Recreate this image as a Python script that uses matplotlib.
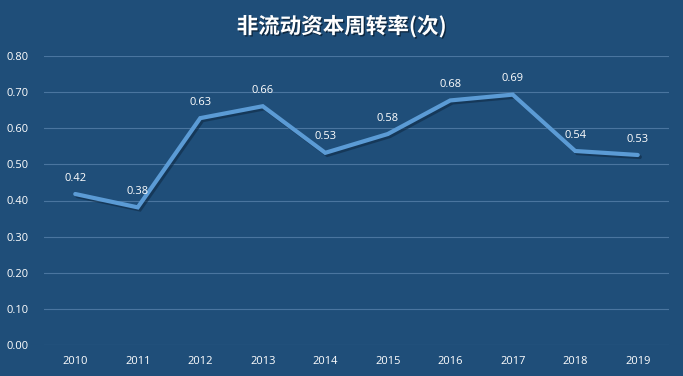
import matplotlib.pyplot as plt
import matplotlib.patheffects as pe

years = ['2010', '2011', '2012', '2013', '2014', '2015', '2016', '2017', '2018', '2019']
turnover = [0.418, 0.381, 0.628, 0.661, 0.532, 0.584, 0.677, 0.693, 0.537, 0.526]
yticks = [0.0, 0.1, 0.2, 0.3, 0.4, 0.5, 0.6, 0.7, 0.8]

bg = '#1f4e79'
plt.rcParams['font.family'] = ['Noto Sans CJK SC', 'DejaVu Sans']

fig = plt.figure(figsize=(6.83, 3.76), dpi=100, facecolor=bg)
ax = fig.add_axes([44 / 683, 1 - 345 / 376, 625 / 683, 289 / 376])
ax.set_facecolor(bg)

x = list(range(len(years)))
ax.plot(x, turnover, color='#5b9bd5', lw=3, solid_capstyle='round', solid_joinstyle='miter',
        path_effects=[pe.SimpleLineShadow(offset=(1.5, -1.5), shadow_color='#0f2a45', alpha=0.6),
                      pe.Normal()], zorder=3)

for xi, v in zip(x, turnover):
    ax.annotate(f'{v:.2f}', (xi, v), xytext=(0, 7.5), textcoords='offset points',
                ha='center', va='bottom', color='white', fontsize=8,
                family=['Open Sans', 'DejaVu Sans'])

ax.set_xlim(-0.5, len(years) - 0.5)
ax.set_ylim(0, 0.8)
ax.set_yticks(yticks)
ax.set_yticklabels([f'{t:.2f}' for t in yticks])
ax.set_xticks(x)
ax.set_xticklabels(years)
ax.tick_params(length=0, colors='white', labelsize=8)
ax.tick_params(axis='y', pad=11)
ax.tick_params(axis='x', pad=8)
for lab in ax.get_xticklabels() + ax.get_yticklabels():
    lab.set_family(['Open Sans', 'DejaVu Sans'])

ax.grid(axis='y', color='#4a759f', lw=0.8)
ax.set_axisbelow(True)
for s in ax.spines.values():
    s.set_visible(False)

fig.text(0.5, 1 - 26 / 376, '非流动资本周转率(次)', ha='center', va='center', color='white',
         fontsize=15.5, fontweight='bold',
         path_effects=[pe.withSimplePatchShadow(offset=(1, -1), shadow_rgbFace='#0a1f33', alpha=0.8)])

fig.savefig('out.png', dpi=100, facecolor=bg)
